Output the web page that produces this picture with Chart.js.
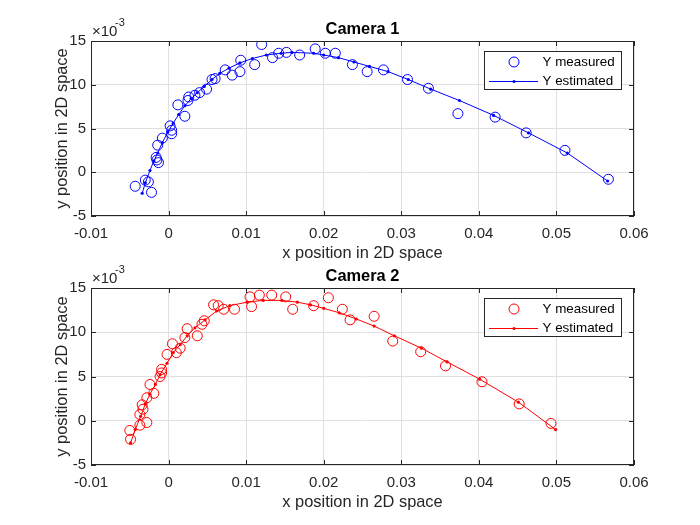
<!DOCTYPE html>
<html>
<head>
<meta charset="utf-8">
<script src="https://cdn.jsdelivr.net/npm/chart.js@4.4.1/dist/chart.umd.min.js"></script>
<style>
body { margin: 0; background: #fff; }
#wrap { position: relative; width: 700px; height: 525px; }
canvas { position: absolute; left: 0; }
</style>
</head>
<body>
<div id="wrap">
    <canvas id="cam1" width="700" height="262" style="top:0px"></canvas>
    <canvas id="cam2" width="700" height="263" style="top:262px"></canvas>
</div>
<script>
// axis ticks (y values are in units of 1e-3)
const xTicks = [-0.01, 0, 0.01, 0.02, 0.03, 0.04, 0.05, 0.06];
const xTickLabels = ['-0.01', '0', '0.01', '0.02', '0.03', '0.04', '0.05', '0.06'];
const yTicks = [-5, 0, 5, 10, 15];
const yTickLabels = ['-5', '0', '5', '10', '15'];

// Camera 1
const cam1MeasX = [-0.0043, -0.0030, -0.0026, -0.0022, -0.0016, -0.0013, -0.0015, -0.0014, -0.0008, 0.0002,
    0.0004, 0.0004, 0.0012, 0.0021, 0.0026, 0.0025, 0.0034, 0.0040, 0.0049, 0.0056,
    0.0060, 0.0073, 0.0082, 0.0092, 0.0093, 0.0111, 0.0120, 0.0134, 0.0142, 0.0152,
    0.0169, 0.0189, 0.0202, 0.0215, 0.0237, 0.0256, 0.0277, 0.0308, 0.0335, 0.0373,
    0.0421, 0.0461, 0.0511, 0.0567];
const cam1MeasY = [-1.6, -0.9, -1.1, -2.3, 1.7, 1.1, 1.4, 3.1, 3.9, 5.3,
    4.4, 4.8, 7.7, 6.4, 8.6, 8.2, 8.8, 9.1, 9.5, 10.6,
    10.7, 11.7, 11.1, 11.5, 12.8, 12.3, 14.6, 13.1, 13.6, 13.7,
    13.4, 14.1, 13.6, 13.6, 12.3, 11.5, 11.7, 10.6, 9.6, 6.7,
    6.3, 4.5, 2.5, -0.8];
const cam1EstX = [-0.0034, -0.0030, -0.0024, -0.0019, -0.0014, -0.0008, -0.0001, 0.0006, 0.0013, 0.0021,
    0.0029, 0.0037, 0.0046, 0.0056, 0.0066, 0.0078, 0.0092, 0.0108, 0.0126, 0.0145,
    0.0159, 0.0187, 0.0200, 0.0219, 0.0239, 0.0259, 0.0283, 0.0309, 0.0338, 0.0375,
    0.0419, 0.0464, 0.0514, 0.0566];
const cam1EstY = [-2.4, -1.2, 0.2, 1.3, 2.2, 3.4, 4.6, 5.6, 6.6, 7.6,
    8.4, 9.1, 9.8, 10.6, 11.3, 11.9, 12.5, 13.0, 13.4, 13.6,
    13.7, 13.6, 13.4, 13.1, 12.6, 12.1, 11.5, 10.6, 9.5, 8.2,
    6.5, 4.5, 2.2, -1.0];

// Camera 2
const cam2MeasX = [-0.0049, -0.0050, -0.0037, -0.0028, -0.0037, -0.0033, -0.0034, -0.0028, -0.0019, -0.0024,
    -0.0011, -0.0009, -0.0009, -0.0002, 0.0010, 0.0015, 0.0005, 0.0021, 0.0024, 0.0037,
    0.0043, 0.0046, 0.0058, 0.0064, 0.0071, 0.0085, 0.0107, 0.0105, 0.0117, 0.0133,
    0.0151, 0.0160, 0.0187, 0.0206, 0.0224, 0.0234, 0.0265, 0.0289, 0.0325, 0.0357,
    0.0404, 0.0452, 0.0493];
const cam2MeasY = [-2.1, -1.1, -0.5, -0.2, 0.7, 1.3, 1.8, 2.6, 3.1, 4.1,
    5.0, 5.4, 5.8, 7.5, 7.7, 8.2, 8.7, 9.4, 10.4, 9.6,
    10.9, 11.3, 13.1, 13.0, 12.6, 12.6, 12.9, 14.0, 14.2, 14.2,
    14.0, 12.6, 13.0, 13.9, 12.6, 11.4, 11.8, 9.0, 7.8, 6.2,
    4.4, 1.9, -0.3];
const cam2EstX = [-0.0049, -0.0043, -0.0036, -0.0030, -0.0024, -0.0017, -0.0011, -0.0002, 0.0006, 0.0015,
    0.0024, 0.0034, 0.0047, 0.0062, 0.0079, 0.0101, 0.0122, 0.0146, 0.0166, 0.0183,
    0.0200, 0.0220, 0.0242, 0.0265, 0.0291, 0.0326, 0.0359, 0.0401, 0.0451, 0.0499];
const cam2EstY = [-2.5, -1.0, 0.5, 1.9, 3.0, 4.1, 5.2, 6.5, 7.7, 8.6,
    9.6, 10.5, 11.4, 12.4, 13.0, 13.4, 13.6, 13.6, 13.4, 13.1,
    12.7, 12.2, 11.5, 10.7, 9.6, 8.2, 6.65, 4.7, 2.1, -1.0];

const FONT = "'Liberation Sans', Arial, Helvetica, sans-serif";
const AXIS_COLOR = '#262626';

function toPoints(xs, ys) {
    return xs.map((x, i) => ({ x: x, y: ys[i] }));
}

// draws the MATLAB style box, inward ticks, titles, exponent and legend
const matlabAxes = {
    id: 'matlabAxes',
    afterDatasetsDraw(chart, args, opts) {
        const ctx = chart.ctx;
        const a = chart.chartArea;
        const xs = chart.scales.x;
        const ys = chart.scales.y;
        ctx.save();

        ctx.strokeStyle = AXIS_COLOR;
        ctx.lineWidth = 1;
        ctx.strokeRect(a.left + 0.5, a.top + 0.5, a.right - a.left - 1, a.bottom - a.top - 1);

        ctx.beginPath();
        xTicks.forEach(v => {
            const px = Math.round(xs.getPixelForValue(v)) + 0.5;
            ctx.moveTo(px, a.bottom); ctx.lineTo(px, a.bottom - 5);
            ctx.moveTo(px, a.top); ctx.lineTo(px, a.top + 5);
        });
        yTicks.forEach(v => {
            const py = Math.round(ys.getPixelForValue(v)) + 0.5;
            ctx.moveTo(a.left, py); ctx.lineTo(a.left + 5, py);
            ctx.moveTo(a.right, py); ctx.lineTo(a.right - 5, py);
        });
        ctx.stroke();

        ctx.fillStyle = '#000';
        ctx.textAlign = 'center';
        ctx.textBaseline = 'middle';
        ctx.font = 'bold 16.4px ' + FONT;
        ctx.fillText(opts.title, (a.left + a.right) / 2, a.top - 12);

        ctx.fillStyle = AXIS_COLOR;
        ctx.font = '16.4px ' + FONT;
        ctx.fillText('x position in 2D space', (a.left + a.right) / 2, a.bottom + 37);
        ctx.save();
        ctx.translate(62, (a.top + a.bottom) / 2);
        ctx.rotate(-Math.PI / 2);
        ctx.fillText('y position in 2D space', 0, 0);
        ctx.restore();

        // exponent
        ctx.textAlign = 'left';
        ctx.font = '15px ' + FONT;
        ctx.fillText('\u00d710', a.left + 1, a.top - 9);
        ctx.font = '11px ' + FONT;
        ctx.fillText('-3', a.left + 24, a.top - 18);

        // legend
        const lw = 137, lh = 38;
        const lx = a.right - 13 - lw, ly = a.top + 10;
        ctx.fillStyle = '#fff';
        ctx.fillRect(lx, ly, lw, lh);
        ctx.strokeStyle = AXIS_COLOR;
        ctx.strokeRect(lx + 0.5, ly + 0.5, lw, lh);
        const r1 = a.top + 21, r2 = a.top + 40;
        ctx.strokeStyle = opts.color;
        ctx.fillStyle = opts.color;
        ctx.beginPath();
        ctx.arc(lx + 30, r1, 5, 0, Math.PI * 2);
        ctx.stroke();
        ctx.beginPath();
        ctx.moveTo(lx + 5, r2 + 0.5); ctx.lineTo(lx + 54, r2 + 0.5);
        ctx.stroke();
        ctx.beginPath();
        ctx.arc(lx + 30, r2 + 0.5, 1.6, 0, Math.PI * 2);
        ctx.fill();
        ctx.fillStyle = '#000';
        ctx.font = '13.4px ' + FONT;
        ctx.fillText('Y measured', lx + 58.5, r1);
        ctx.fillText('Y estimated', lx + 58.5, r2);
        ctx.restore();
    }
};

function makeCamera(id, title, color, measX, measY, estX, estY, padTop, xHeight) {
    return new Chart(document.getElementById(id), {
        type: 'scatter',
        data: {
            datasets: [{
                label: 'Y measured',
                data: toPoints(measX, measY),
                showLine: false,
                pointStyle: 'circle',
                pointRadius: 5,
                pointBorderWidth: 1,
                pointBorderColor: color,
                pointBackgroundColor: 'rgba(0,0,0,0)'
            }, {
                label: 'Y estimated',
                data: toPoints(estX, estY),
                showLine: true,
                borderColor: color,
                borderWidth: 1,
                tension: 0,
                pointRadius: 1.6,
                pointBorderWidth: 0,
                pointBackgroundColor: color
            }]
        },
        options: {
            responsive: false,
            animation: false,
            devicePixelRatio: 1,
            layout: { padding: { left: 0, right: 66, top: padTop, bottom: 0 } },
            plugins: {
                legend: { display: false },
                tooltip: { enabled: false },
                matlabAxes: { title: title, color: color }
            },
            scales: {
                x: {
                    type: 'linear',
                    min: -0.01,
                    max: 0.06,
                    afterBuildTicks: s => { s.ticks = xTicks.map(v => ({ value: v })); },
                    afterFit: s => { s.height = xHeight; },
                    grid: { color: '#e0e0e0', drawTicks: false },
                    border: { display: false },
                    ticks: {
                        autoSkip: false,
                        maxRotation: 0,
                        padding: 9,
                        color: AXIS_COLOR,
                        font: { family: FONT, size: 15 },
                        callback: (v, i) => xTickLabels[i]
                    }
                },
                y: {
                    type: 'linear',
                    min: -5,
                    max: 15,
                    afterBuildTicks: s => { s.ticks = yTicks.map(v => ({ value: v })); },
                    afterFit: s => { s.width = 91; },
                    grid: { color: '#e0e0e0', drawTicks: false },
                    border: { display: false },
                    ticks: {
                        padding: 5,
                        color: AXIS_COLOR,
                        font: { family: FONT, size: 15 },
                        callback: (v, i) => yTickLabels[i]
                    }
                }
            }
        },
        plugins: [matlabAxes]
    });
}

makeCamera('cam1', 'Camera 1', '#0000ff', cam1MeasX, cam1MeasY, cam1EstX, cam1EstY, 41, 46);
makeCamera('cam2', 'Camera 2', '#ff0000', cam2MeasX, cam2MeasY, cam2EstX, cam2EstY, 26, 60);
</script>
</body>
</html>
